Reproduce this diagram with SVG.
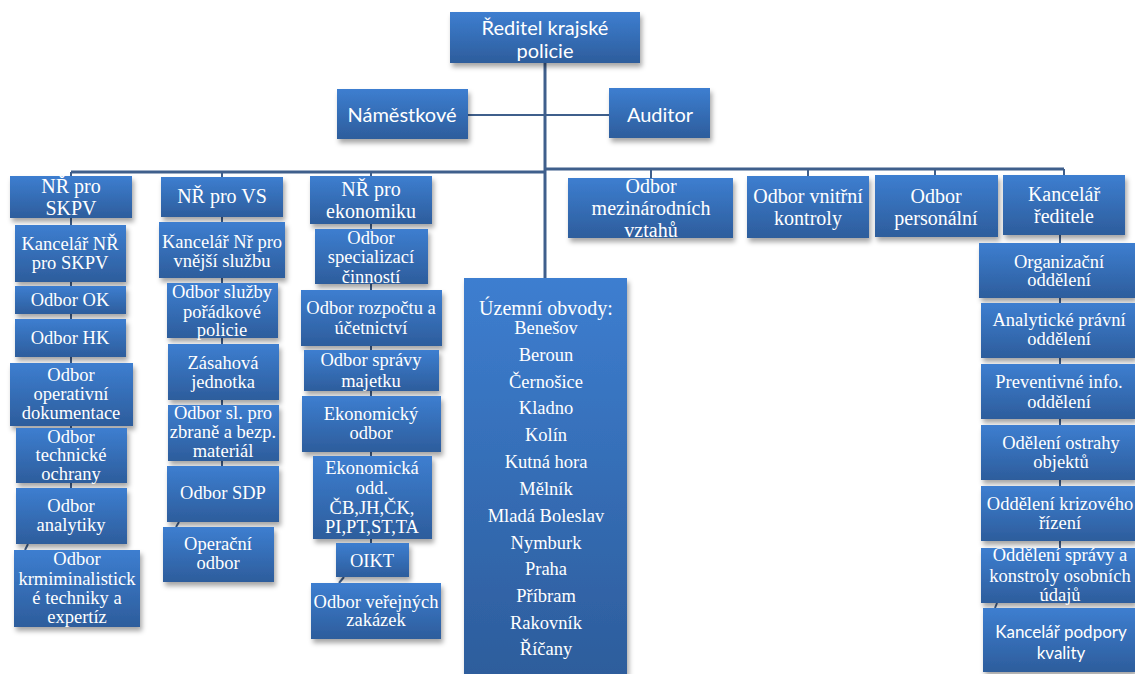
<svg xmlns="http://www.w3.org/2000/svg" width="1135" height="674" viewBox="0 0 1135 674">
<style>
.b{fill:url(#g);filter:url(#sh)}
.t{font-family:"Liberation Serif","Times New Roman",serif;font-size:18.5px;fill:#fff;text-anchor:middle;dominant-baseline:central}
.h{font-size:20px}
.s{font-family:Lato,"Liberation Sans",sans-serif;font-size:20px}
.s2{font-family:Lato,"Liberation Sans",sans-serif;font-size:17px}
.c{stroke:#3f5f8c;stroke-width:2;fill:none}
.m{stroke-width:3}
</style>
<defs>
<linearGradient id="g" x1="0" y1="0" x2="0" y2="1">
<stop offset="0" stop-color="#3d7ed0"/>
<stop offset="1" stop-color="#2d5d9c"/>
</linearGradient>
<filter id="sh" x="-10%" y="-10%" width="130%" height="140%">
<feDropShadow dx="2" dy="4" stdDeviation="2.5" flood-color="#000" flood-opacity="0.35"/>
</filter>
</defs>
<rect width="1135" height="674" fill="#fff"/>
<g id="connectors">
<path class="c m" d="M545 63V278"/>
<path class="c" d="M468 115H609"/>
<path class="c m" d="M71 172H546"/>
<path class="c m" d="M546 169H1064"/>
<path class="c" d="M71 172V176M222 172V177M371 172V176M651 169V178M808 169V176M935 169V175M1064 169V175"/>
<path class="c" d="M71 218V225M71 282V286M71 314V319M71 357V363M71 426V428M71 483V488"/>
<path class="c" d="M28 544L25 550M14 587H16"/>
<path class="c" d="M222 217V222M222 278V283M222 338V344M222 400V405M222 461V466"/>
<path class="c" d="M179 522L176 527M163 553H165"/>
<path class="c" d="M371 224V229M371 284V290M371 346V350M371 391V396M371 452V456M371 539V543"/>
<path class="c" d="M344 577L339 583"/>
<path class="c" d="M1060 235V243M1060 298V303M1060 358V364M1060 419V425M1060 480V486M1060 541V548"/>
<path class="c" d="M997 603L995 608"/>
</g>
<g id="reditel"><rect class="b" x="450" y="12" width="190" height="51"/><text class="t s" x="545" y="27">Ředitel krajské</text><text class="t s" x="545" y="50">policie</text></g>
<g id="namestkove"><rect class="b" x="337" y="89" width="131" height="50"/><text class="t s" x="402" y="114">Náměstkové</text></g>
<g id="auditor"><rect class="b" x="609" y="88" width="101" height="50"/><text class="t s" x="660" y="114">Auditor</text></g>

<g id="nr-skpv"><rect class="b" x="10" y="176" width="122" height="42"/><text class="t h" x="71" y="186">NŘ pro</text><text class="t h" x="71" y="208">SKPV</text></g>
<g id="nr-vs"><rect class="b" x="161" y="177" width="122" height="40"/><text class="t h" x="222" y="196">NŘ pro VS</text></g>
<g id="nr-ek"><rect class="b" x="310" y="176" width="122" height="48"/><text class="t h" x="371" y="189">NŘ pro</text><text class="t h" x="371" y="211">ekonomiku</text></g>
<g id="mezinar"><rect class="b" x="568" y="178" width="165" height="60"/><text class="t h" x="651" y="186">Odbor</text><text class="t h" x="651" y="208">mezinárodních</text><text class="t h" x="651" y="230">vztahů</text></g>
<g id="vnitrni"><rect class="b" x="747" y="176" width="122" height="62"/><text class="t h" x="808" y="196">Odbor vnitřní</text><text class="t h" x="808" y="218">kontroly</text></g>
<g id="personal"><rect class="b" x="875" y="175" width="123" height="62"/><text class="t h" x="936" y="196">Odbor</text><text class="t h" x="936" y="218">personální</text></g>
<g id="kancelar-r"><rect class="b" x="1003" y="175" width="122" height="60"/><text class="t h" x="1064" y="194">Kancelář</text><text class="t h" x="1064" y="216">ředitele</text></g>

<g id="k-skpv"><rect class="b" x="15" y="225" width="111" height="57"/><text class="t" x="70" y="244">Kancelář NŘ</text><text class="t" x="70" y="263">pro SKPV</text></g>
<g id="ok"><rect class="b" x="15" y="286" width="111" height="28"/><text class="t" x="70" y="300">Odbor OK</text></g>
<g id="hk"><rect class="b" x="15" y="319" width="111" height="38"/><text class="t" x="70" y="338">Odbor HK</text></g>
<g id="operativni"><rect class="b" x="10" y="363" width="123" height="63"/><text class="t" x="71" y="375">Odbor</text><text class="t" x="71" y="394">operativní</text><text class="t" x="71" y="413">dokumentace</text></g>
<g id="technicke"><rect class="b" x="16" y="428" width="111" height="55"/><text class="t" x="71" y="437">Odbor</text><text class="t" x="71" y="455">technické</text><text class="t" x="71" y="474">ochrany</text></g>
<g id="analytiky"><rect class="b" x="16" y="488" width="111" height="56"/><text class="t" x="71" y="506">Odbor</text><text class="t" x="71" y="525">analytiky</text></g>
<g id="krmin"><rect class="b" x="14" y="550" width="126" height="77"/><text class="t" x="77" y="559">Odbor</text><text class="t" x="77" y="579">krmiminalistick</text><text class="t" x="77" y="598">é techniky a</text><text class="t" x="77" y="617">expertíz</text></g>

<g id="k-vs"><rect class="b" x="159" y="222" width="126" height="56"/><text class="t" x="222" y="242">Kancelář Nř pro</text><text class="t" x="222" y="261">vnější službu</text></g>
<g id="sluzby"><rect class="b" x="167" y="283" width="111" height="55"/><text class="t" x="222" y="292">Odbor služby</text><text class="t" x="222" y="312">pořádkové</text><text class="t" x="222" y="330">policie</text></g>
<g id="zasahova"><rect class="b" x="168" y="344" width="111" height="56"/><text class="t" x="223" y="363">Zásahová</text><text class="t" x="223" y="382">jednotka</text></g>
<g id="zbrane"><rect class="b" x="168" y="405" width="111" height="56"/><text class="t" x="223" y="413">Odbor sl. pro</text><text class="t" x="223" y="432">zbraně a bezp.</text><text class="t" x="223" y="451">materiál</text></g>
<g id="sdp"><rect class="b" x="167" y="466" width="112" height="56"/><text class="t" x="223" y="493">Odbor SDP</text></g>
<g id="operacni"><rect class="b" x="163" y="527" width="111" height="55"/><text class="t" x="218" y="544">Operační</text><text class="t" x="218" y="563">odbor</text></g>

<g id="specializaci"><rect class="b" x="315" y="229" width="113" height="55"/><text class="t" x="371" y="238">Odbor</text><text class="t" x="371" y="257">specializací</text><text class="t" x="371" y="277">činností</text></g>
<g id="rozpocet"><rect class="b" x="301" y="290" width="141" height="56"/><text class="t" x="371" y="308">Odbor rozpočtu a</text><text class="t" x="371" y="328">účetnictví</text></g>
<g id="majetek"><rect class="b" x="304" y="350" width="135" height="41"/><text class="t" x="371" y="360">Odbor správy</text><text class="t" x="371" y="381">majetku</text></g>
<g id="ekonomicky"><rect class="b" x="302" y="396" width="139" height="56"/><text class="t" x="371" y="414">Ekonomický</text><text class="t" x="371" y="433">odbor</text></g>
<g id="ek-odd"><rect class="b" x="313" y="456" width="119" height="83"/><text class="t" x="372" y="468">Ekonomická</text><text class="t" x="372" y="488">odd.</text><text class="t" x="372" y="508">ČB,JH,ČK,</text><text class="t" x="372" y="527">PI,PT,ST,TA</text></g>
<g id="oikt"><rect class="b" x="336" y="543" width="73" height="34"/><text class="t" x="372" y="561">OIKT</text></g>
<g id="zakazky"><rect class="b" x="311" y="583" width="130" height="56"/><text class="t" x="376" y="602">Odbor veřejných</text><text class="t" x="376" y="620">zakázek</text></g>

<g id="uzemni"><rect class="b" x="464" y="278" width="163" height="396"/><text class="t h" x="546" y="308">Územní obvody:</text>
<text class="t" x="546" y="328">Benešov</text><text class="t" x="546" y="355">Beroun</text><text class="t" x="546" y="382">Černošice</text><text class="t" x="546" y="408">Kladno</text><text class="t" x="546" y="435">Kolín</text><text class="t" x="546" y="462">Kutná hora</text><text class="t" x="546" y="489">Mělník</text><text class="t" x="546" y="516">Mladá Boleslav</text><text class="t" x="546" y="543">Nymburk</text><text class="t" x="546" y="569">Praha</text><text class="t" x="546" y="596">Příbram</text><text class="t" x="546" y="623">Rakovník</text><text class="t" x="546" y="649">Říčany</text></g>

<g id="organizacni"><rect class="b" x="979" y="243" width="156" height="55"/><text class="t" x="1059" y="262">Organizační</text><text class="t" x="1059" y="280">oddělení</text></g>
<g id="analyticke"><rect class="b" x="981" y="303" width="154" height="55"/><text class="t" x="1059" y="320">Analytické právní</text><text class="t" x="1059" y="339">oddělení</text></g>
<g id="preventivne"><rect class="b" x="981" y="364" width="154" height="55"/><text class="t" x="1059" y="382">Preventivné info.</text><text class="t" x="1059" y="402">oddělení</text></g>
<g id="ostraha"><rect class="b" x="981" y="425" width="154" height="55"/><text class="t" x="1061" y="443">Odělení ostrahy</text><text class="t" x="1061" y="462">objektů</text></g>
<g id="krizove"><rect class="b" x="981" y="486" width="154" height="55"/><text class="t" x="1060" y="504">Oddělení krizového</text><text class="t" x="1060" y="523">řízení</text></g>
<g id="osobni"><rect class="b" x="981" y="548" width="154" height="55"/><text class="t" x="1060" y="555">Oddělení správy a</text><text class="t" x="1060" y="576">konstroly osobních</text><text class="t" x="1060" y="595">údajů</text></g>
<g id="kvalita"><rect class="b" x="983" y="608" width="152" height="64"/><text class="t s2" x="1061" y="631">Kancelář podpory</text><text class="t s2" x="1061" y="652">kvality</text></g>
</svg>
